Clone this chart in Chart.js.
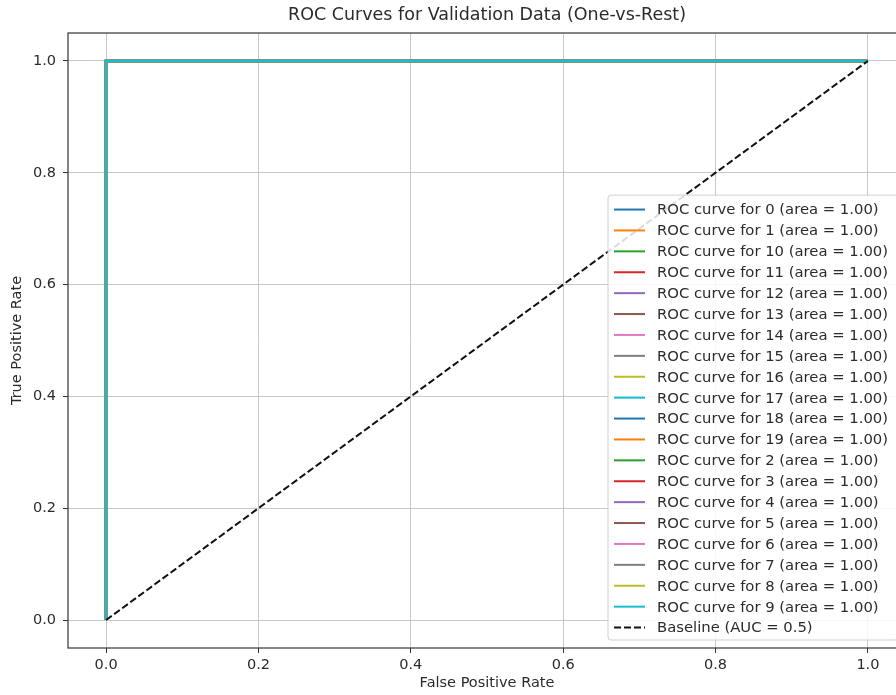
<!DOCTYPE html>
<html lang="en">
<head>
    <meta charset="UTF-8">
    <title>ROC Curves</title>
    <script src="https://cdn.jsdelivr.net/npm/chart.js"></script>
    <style>
        body { margin: 0; background: #ffffff; overflow: hidden; }
        #wrap { width: 912px; height: 695px; }
    </style>
</head>
<body>
    <div id="wrap"><canvas id="rocChart" width="912" height="695"></canvas></div>

    <script>
        // class names in the order they were plotted
        const classLabels = ['0', '1', '10', '11', '12', '13', '14', '15', '16', '17',
                             '18', '19', '2', '3', '4', '5', '6', '7', '8', '9'];
        const aucValues = [1.00, 1.00, 1.00, 1.00, 1.00, 1.00, 1.00, 1.00, 1.00, 1.00,
                           1.00, 1.00, 1.00, 1.00, 1.00, 1.00, 1.00, 1.00, 1.00, 1.00];
        // every class has the same perfect curve
        const rocFpr = [0.0, 0.0, 1.0];
        const rocTpr = [0.0, 1.0, 1.0];
        const baselineFpr = [0.0, 1.0];
        const baselineTpr = [0.0, 1.0];
        const xTicks = [0.0, 0.2, 0.4, 0.6, 0.8, 1.0];
        const yTicks = [0.0, 0.2, 0.4, 0.6, 0.8, 1.0];

        const palette = ['#1f77b4', '#ff7f0e', '#2ca02c', '#d62728', '#9467bd',
                         '#8c564b', '#e377c2', '#7f7f7f', '#bcbd22', '#17becf'];
        const textColor = '#2b2b2b';
        const fontFamily = '"DejaVu Sans", sans-serif';

        const toPoints = (xs, ys) => xs.map((x, i) => ({ x: x, y: ys[i] }));

        const datasets = classLabels.map((c, i) => ({
            label: `ROC curve for ${c} (area = ${aucValues[i].toFixed(2)})`,
            data: toPoints(rocFpr, rocTpr),
            borderColor: palette[i % palette.length],
            borderWidth: 2.5
        }));
        datasets.push({
            label: 'Baseline (AUC = 0.5)',
            data: toPoints(baselineFpr, baselineTpr),
            borderColor: '#111111',
            borderWidth: 2,
            borderDash: [7, 3]
        });
        // later series sit on top, like matplotlib
        datasets.forEach((d, i) => {
            d.order = datasets.length - 1 - i;
            d.showLine = true;
            d.pointRadius = 0;
            d.fill = false;
        });

        // top / right spines (chart.js only draws the axis borders)
        const spines = {
            id: 'spines',
            beforeDatasetsDraw(chart) {
                const { ctx, chartArea: a } = chart;
                ctx.save();
                ctx.strokeStyle = '#333333';
                ctx.lineWidth = 1.2;
                ctx.strokeRect(a.left, a.top, a.right - a.left, a.bottom - a.top);
                ctx.restore();
            }
        };

        // legend box in the lower right corner of the plot
        const innerLegend = {
            id: 'innerLegend',
            afterDraw(chart) {
                const { ctx, chartArea: a } = chart;
                const sets = chart.data.datasets;
                const rowH = 20.9;
                ctx.save();
                ctx.font = '14.8px ' + fontFamily;
                const maxW = Math.max(...sets.map(d => ctx.measureText(d.label).width));
                const right = a.right - 8;
                const bottom = a.bottom - 8;
                const top = bottom - (sets.length * rowH + 6);
                const textX = right - maxW - 10;
                const h1 = textX - 12;
                const h0 = h1 - 31;
                const left = h0 - 6;

                ctx.fillStyle = 'rgba(255,255,255,0.85)';
                ctx.strokeStyle = '#d0d0d0';
                ctx.lineWidth = 1;
                ctx.beginPath();
                ctx.roundRect(left, top, right - left, bottom - top, 3);
                ctx.fill();
                ctx.stroke();

                ctx.textBaseline = 'middle';
                ctx.textAlign = 'left';
                sets.forEach((d, i) => {
                    const y = top + 4 + rowH / 2 + i * rowH;
                    ctx.strokeStyle = d.borderColor;
                    ctx.lineWidth = 2;
                    ctx.setLineDash(d.borderDash || []);
                    ctx.beginPath();
                    ctx.moveTo(h0, y);
                    ctx.lineTo(h1, y);
                    ctx.stroke();
                    ctx.setLineDash([]);
                    ctx.fillStyle = textColor;
                    ctx.fillText(d.label, textX, y + 1);
                });
                ctx.restore();
            }
        };

        const ctx = document.getElementById('rocChart').getContext('2d');
        const rocChart = new Chart(ctx, {
            type: 'scatter',
            data: { datasets: datasets },
            plugins: [spines, innerLegend],
            options: {
                responsive: false,
                animation: false,
                devicePixelRatio: 1,
                layout: { padding: { left: 0, right: 6, top: 0, bottom: 0 } },
                plugins: {
                    legend: { display: false },
                    tooltip: { enabled: false },
                    title: {
                        display: true,
                        fullSize: false,
                        text: 'ROC Curves for Validation Data (One-vs-Rest)',
                        color: textColor,
                        font: { family: fontFamily, size: 17.5, weight: 'normal', lineHeight: 1.2 },
                        padding: { top: 5, bottom: 7 }
                    }
                },
                scales: {
                    x: {
                        type: 'linear',
                        min: -0.05,
                        max: 1.05,
                        afterBuildTicks: axis => { axis.ticks = xTicks.map(v => ({ value: v })); },
                        afterFit: s => { s.height = 47; },
                        ticks: {
                            color: textColor,
                            padding: 4,
                            maxRotation: 0,
                            font: { family: fontFamily, size: 14.5 },
                            callback: v => v.toFixed(1)
                        },
                        grid: { color: '#c8c8c8', lineWidth: 1, tickLength: 5, tickColor: '#333333' },
                        border: { display: false },
                        title: {
                            display: true,
                            text: 'False Positive Rate',
                            color: textColor,
                            font: { family: fontFamily, size: 14.5 },
                            padding: { top: 0, bottom: 3 }
                        }
                    },
                    y: {
                        type: 'linear',
                        min: -0.05,
                        max: 1.05,
                        afterBuildTicks: axis => { axis.ticks = yTicks.map(v => ({ value: v })); },
                        afterFit: s => { s.width = 68; },
                        ticks: {
                            color: textColor,
                            padding: 7,
                            font: { family: fontFamily, size: 14.5 },
                            callback: v => v.toFixed(1)
                        },
                        grid: { color: '#c8c8c8', lineWidth: 1, tickLength: 5, tickColor: '#333333' },
                        border: { display: false },
                        title: {
                            display: true,
                            text: 'True Positive Rate',
                            color: textColor,
                            font: { family: fontFamily, size: 14.5 },
                            padding: { top: 9, bottom: 0 }
                        }
                    }
                }
            }
        });
    </script>
</body>
</html>
